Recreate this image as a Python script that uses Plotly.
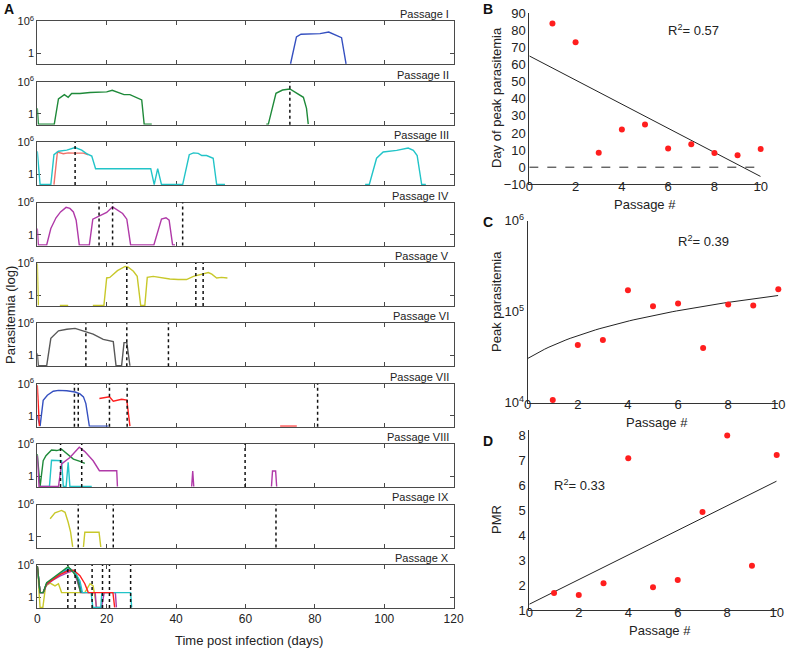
import numpy as np
import plotly.graph_objects as go

W, H = 787, 649
FONT = "Liberation Sans, Arial, sans-serif"
BOT = -1.9  # curve resting on the lower axis (below detection)

# ---- Panel A: log10 parasitemia per passage (days, log10 values) ----
p1_blue_day = [73, 74.7, 76, 79, 81.5, 84, 87.7, 89]
p1_blue_log = [BOT, 3.1, 3.6, 3.6, 3.7, 4.0, 2.95, BOT]

p2_green_day = [0, 0.3, 4.9, 6.1, 7.8, 8.9, 9.9, 12.3, 15.2, 18.1, 20, 21.6, 23.3, 25, 26.7, 28.2, 30.1, 30.8, 33,
                None, 66, 66.6, 68.8, 70.7, 72.8, 74.8, 76.7, 77.6, 78.1]
p2_green_log = [1.05, BOT, BOT, 2.8, 3.6, 3.1, 3.8, 3.8, 4.0, 4.0, 4.1, 4.4, 4.0, 3.6, 3.6, 3.2, 2.6, BOT, BOT,
                None, BOT, BOT, 3.85, 4.45, 4.65, 3.85, 3.1, 1.05, BOT]

p3_red_day = [4.8, 5.8, 7.5, 8.9, 10.9, 13.3, 14.7]
p3_red_log = [BOT, 4.15, 3.85, 4.0, 3.95, 3.95, 3.65]
p3_cyan_day = [0, 0.8, 3.9, 4.8, 6.1, 8.5, 10.9, 12.8, 14.2, 15.7, 16.8, 32.7, 33.7, 34.7, 35.8, 41.9, 43.8, 45,
               46.4, 47.4, 48.8, 50.7, 51.7, 54.1, None, 94.5, 95.7, 97.8, 99.7, 103.6, 106.9, 108.4, 109.5,
               110.8, 112]
p3_cyan_log = [4.3, BOT, BOT, 3.65, 4.3, 4.5, 5.0, 4.5, 3.85, 3.4, 1.05, 1.05, BOT, 1.05, BOT, BOT, 3.65, 4.0,
               3.9, 3.5, 3.5, 3.0, BOT, BOT, None, BOT, BOT, 3.0, 4.15, 4.45, 4.9, 4.45, 3.5, BOT, BOT]

p4_mag_day = [0, 0.3, 2.7, 3.9, 5.4, 6.7, 8.3, 9.4, 10.4, 11.2, 12.1, 15.0, 16.0, 18.1, 20, 21.7, 23.1, 24.6,
              25.8, 26.9, 33.6, 34.9, 35.8, 37.1, 38.0, 39.0, 39.7]
p4_mag_log = [1.15, BOT, BOT, 1.15, 3.15, 4.25, 5.1, 4.9, 4.25, 2.7, BOT, BOT, 2.9, 3.5, 4.15, 5.2, 4.55, 3.95,
              2.9, BOT, BOT, 1.15, 2.9, 3.15, 2.7, BOT, BOT]

p5_yel_day = [0, 0.3, None, 6.5, 8.9, None, 16, 19.2, 20, 20.9, 23.1, 25.3, 26.2, 27.7, 28.8, 29.8, 31.0, 31.7,
              33.4, 35.8, 38.2, 40.6, 43.0, 45.0, 46.9, 49.3, 50.3, 51.7, 53.1, 54.8]
p5_yel_log = [5.9, BOT, None, BOT, BOT, None, BOT, BOT, 3.2, 3.3, 4.55, 5.35, 5.2, 4.45, 3.5, BOT, BOT, 3.3,
              3.5, 3.2, 3.0, 2.9, 2.9, 3.5, 3.8, 4.2, 3.9, 3.2, 3.3, 3.2]

p6_gray_day = [0, 0.3, 2.7, 3.9, 6.1, 8.5, 10.9, 14.0, 16.1, 19.0, 21.9, 22.7, 24.3, 25, 25.8, 26.7]
p6_gray_log = [0.4, BOT, BOT, 3.2, 4.6, 4.9, 5.05, 4.45, 4.0, 3.0, 2.6, BOT, BOT, 2.4, 2.4, BOT]

p7_blue_day = [0, 0.8, 1.7, 2.9, 4.6, 6.1, 8.5, 10.9, 12.3, 13.3, 14.0, 15.0, 20.5]
p7_blue_log = [0.0, BOT, 2.9, 3.85, 4.6, 4.75, 4.7, 4.45, 4.1, 3.55, 2.3, BOT, BOT]
p7_red_day = [0, 0.6, None, 17.9, 19.5, 20.8, 21.9, 23.1, 24.3, 25.8, 26.7, None, 70, 74.8]
p7_red_log = [5.7, BOT, None, 3.25, 3.4, 3.55, 2.75, 2.9, 3.1, 2.95, BOT, None, BOT, BOT]

p8_green_day = [0, 0.8, 1.7, 2.5, 4.1, 5.6, 7.0, 8.5, 10.4, 12.3, 13.7]
p8_green_log = [4.15, BOT, 2.9, 3.85, 4.9, 4.8, 5.05, 4.3, 3.2, 2.8, 2.4]
p8_cyan_day = [1, 3.5, 4.1, 5.6, 7.0, 7.5, 8.3, 8.9, 9.4, 15.7]
p8_cyan_log = [BOT, BOT, 3.0, 3.0, 2.9, BOT, BOT, 2.6, BOT, BOT]
p8_mag_day = [0, 0.5, 6.1, 7.0, 9.4, 12.1, 13.7, 16.1, 17.9, 22.9, 23.1, None, 44.5, 44.8, 45.1, None,
              67.5, 67.8, 68.7, 69]
p8_mag_log = [3.85, BOT, BOT, 2.3, 3.5, 5.4, 4.6, 2.9, 1.05, 1.05, BOT, None, BOT, 1.0, BOT, None,
              BOT, 1.0, 1.0, BOT]

p9_yel_day = [3.7, 5.1, 7.0, 8.0, 8.9, 9.6, 10.2, None, 13.3, 13.7, 17.8, 18.3]
p9_yel_log = [3.35, 4.45, 4.9, 4.55, 2.7, 0.85, BOT, None, BOT, 0.85, 0.85, BOT]

p10_yel_day = [0, 0.8, 1.6, 2.4, 3.7, 5.1, 6.1, 7.0, 13.7, 15.2, 16.1, 17.1]
p10_yel_log = [5.8, BOT, BOT, 2.1, 2.6, 2.1, 2.5, 0.85, 0.85, 2.5, 2.1, BOT]
p10_mag_day = [0, 0.8, 1.7, 2.7, 4.6, 6.5, 8.9, 10.4, 11.5, 12.5, 16.7, 17.0, 18.5, 19.3, 22.5, 22.8]
p10_mag_log = [5.8, 0.85, 0.85, 2.3, 3.2, 3.9, 4.6, 4.9, 3.0, 0.85, 0.85, BOT, BOT, 0.85, 0.85, BOT]
p10_blue_day = [0, 0.8, 1.7, 2.7, 4.6, 6.5, 9.4, 11, 12.0, 12.8]
p10_blue_log = [5.8, 0.85, 0.85, 2.5, 3.4, 4.3, 5.3, 4.5, 3.0, 0.85]
p10_cyan_day = [0, 0.8, 1.7, 2.7, 4.6, 6.5, 8.9, 10.9, 12.3, 13.0, 15.5, 16, 18.3, 18.6, 26.9, 27.2]
p10_cyan_log = [5.8, 0.85, 0.85, 2.6, 3.4, 4.3, 5.5, 4.6, 3.0, 0.85, 0.85, BOT, BOT, 0.85, 0.85, BOT]
p10_green_day = [0, 0.8, 1.7, 2.7, 4.6, 6.5, 8.9, 10.4, 11.5, 12.5]
p10_green_log = [5.8, 0.85, 0.85, 2.7, 3.6, 4.5, 5.65, 4.6, 3.5, 0.85]
p10_red_day = [0, 0.8, 1.7, 2.7, 4.6, 6.5, 8.9, 10.5, 12.3, 13.7, 14.7, 21.8, 22.3]
p10_red_log = [5.8, 0.85, 0.85, 2.5, 3.3, 4.2, 4.9, 5.0, 4.0, 2.5, 0.85, 0.85, BOT]

# day of peak markers (dotted lines)
peak_days = [[], [72.8], [10.9], [17.8, 21.7, 41.9], [25.8, 45.7, 47.8], [14.0, 25.8, 37.8],
             [10.7, 11.8, 20.8, 25.9, 80.8], [6.7, 12.8, 59.9], [11.8, 21.9, 68.8],
             [8.8, 10.9, 15.8, 18.8, 20.8, 26.9]]
passage_names = ["I", "II", "III", "IV", "V", "VI", "VII", "VIII", "IX", "X"]
x_ticks_a = [0, 20, 40, 60, 80, 100, 120]

# ---- Panels B-D ----
passage = [1, 2, 3, 4, 5, 6, 7, 8, 9, 10]
peak_day = [84, 73, 8.5, 22, 25, 11, 13.4, 8.3, 7, 10.6]
peak_para = [1.07e4, 4.3e4, 4.9e4, 1.72e5, 1.15e5, 1.23e5, 4.0e4, 1.2e5, 1.17e5, 1.77e5]
pmr = [1.68, 1.6, 2.07, 7.07, 1.91, 2.2, 4.92, 7.98, 2.77, 7.2]

BLUE, GREEN, CYAN = "#3550c0", "#1f8a3a", "#22c4c8"
SALMON, MAG, YEL = "#f07068", "#b03aa8", "#c8c82a"
GRAY, RED = "#585858", "#ff1e1e"

series = [
    (1, p1_blue_day, p1_blue_log, BLUE),
    (2, p2_green_day, p2_green_log, GREEN),
    (3, p3_red_day, p3_red_log, SALMON),
    (3, p3_cyan_day, p3_cyan_log, CYAN),
    (4, p4_mag_day, p4_mag_log, MAG),
    (5, p5_yel_day, p5_yel_log, YEL),
    (6, p6_gray_day, p6_gray_log, GRAY),
    (7, p7_blue_day, p7_blue_log, BLUE),
    (7, p7_red_day, p7_red_log, RED),
    (8, p8_cyan_day, p8_cyan_log, CYAN),
    (8, p8_green_day, p8_green_log, GREEN),
    (8, p8_mag_day, p8_mag_log, MAG),
    (9, p9_yel_day, p9_yel_log, YEL),
    (10, p10_yel_day, p10_yel_log, YEL),
    (10, p10_mag_day, p10_mag_log, MAG),
    (10, p10_blue_day, p10_blue_log, BLUE),
    (10, p10_cyan_day, p10_cyan_log, CYAN),
    (10, p10_red_day, p10_red_log, RED),
    (10, p10_green_day, p10_green_log, GREEN),
]


def ax(n):
    return "" if n == 1 else str(n)


def fx(p):
    return p / W


def fy(p):
    return 1 - p / H


fig = go.Figure()
layout = {}
shapes = []
annotations = []

axis_line = dict(showline=True, linecolor="#4a4a4a", linewidth=1, showgrid=False, zeroline=False, automargin=False)
tick_font = dict(family=FONT, size=11, color="#222")

for k in range(10):
    n = k + 1
    top = 21.3 + 60.4 * k
    layout["xaxis" + ax(n)] = dict(
        domain=[fx(37.3), fx(453.6)], range=[0, 120], anchor="y" + ax(n),
        tickvals=x_ticks_a, ticks="inside", ticklen=4, tickcolor="#4a4a4a", mirror="ticks",
        showticklabels=(k == 9), tickfont=dict(family=FONT, size=12, color="#222"),
        layer="below traces", **axis_line,
    )
    layout["yaxis" + ax(n)] = dict(
        domain=[fy(top + 43), fy(top)], range=[-2, 6], anchor="x" + ax(n),
        tickvals=[0, 6], ticktext=["1", "10<sup>6</sup>"], ticks="inside", ticklen=4,
        tickcolor="#4a4a4a", mirror="ticks", tickfont=tick_font, layer="below traces", **axis_line,
    )
    annotations.append(dict(
        xref="paper", yref="paper", x=fx(451), y=fy(top - 7), xanchor="right", yanchor="middle",
        text="Passage " + passage_names[k], showarrow=False, font=dict(family=FONT, size=11, color="#222"),
    ))
    for d in peak_days[k]:
        shapes.append(dict(type="line", xref="x" + ax(n), yref="y" + ax(n) + " domain",
                           x0=d, x1=d, y0=0, y1=1, line=dict(color="#111", width=1.5, dash="dot")))

for n, xs, ys, c in series:
    fig.add_trace(go.Scatter(x=xs, y=ys, mode="lines", line=dict(color=c, width=1.4),
                             xaxis="x" + ax(n), yaxis="y" + ax(n), showlegend=False, connectgaps=False))

# ---- fits ----
fit_x = np.linspace(0, 10, 60)
b_fit = np.polyval(np.polyfit(passage, peak_day, 1), fit_x)
c_fit = np.polyval(np.polyfit(passage, peak_para, 1), fit_x)
d_fit = np.polyval(np.polyfit(passage, pmr, 1), fit_x)

panel_font = dict(family=FONT, size=13, color="#222")
common = dict(showgrid=False, zeroline=False, showline=True, linecolor="#333", linewidth=1,
              ticks="", tickfont=panel_font, automargin=False)
xcommon = dict(range=[0, 10], tickvals=[0, 2, 4, 6, 8, 10], ticklabelstandoff=-10, **common)
ycommon = dict(ticklabelstandoff=0, **common)

# B
layout["xaxis11"] = dict(domain=[fx(529.3), fx(760.7)], anchor="y11", **xcommon)
layout["yaxis11"] = dict(domain=[fy(184.3), fy(13.3)], range=[-10, 90], anchor="x11",
                         tickvals=list(range(-10, 91, 10)),
                         ticktext=["\u221210"] + [str(v) for v in range(0, 91, 10)], **ycommon)
fig.add_trace(go.Scatter(x=fit_x, y=b_fit, mode="lines", line=dict(color="#222", width=1),
                         xaxis="x11", yaxis="y11", showlegend=False))
fig.add_trace(go.Scatter(x=passage, y=peak_day, mode="markers", marker=dict(color=RED, size=6),
                         xaxis="x11", yaxis="y11", showlegend=False, cliponaxis=False))
shapes.append(dict(type="line", xref="x11", yref="y11", x0=0, x1=10, y0=0, y1=0,
                   line=dict(color="#222", width=1, dash="dash")))
annotations.append(dict(xref="x11", yref="y11", x=5.9, y=80, xanchor="left", text="R<sup>2</sup>= 0.57",
                        showarrow=False, font=panel_font))

# C
layout["xaxis12"] = dict(domain=[fx(527.7), fx(778.3)], anchor="y12", **xcommon)
layout["yaxis12"] = dict(domain=[fy(402.7), fy(220.7)], type="log", range=[4, 6], anchor="x12",
                         tickvals=[1e4, 1e5, 1e6], ticktext=["10<sup>4</sup>", "10<sup>5</sup>", "10<sup>6</sup>"],
                         **ycommon)
fig.add_trace(go.Scatter(x=fit_x, y=c_fit, mode="lines", line=dict(color="#222", width=1),
                         xaxis="x12", yaxis="y12", showlegend=False))
fig.add_trace(go.Scatter(x=passage, y=peak_para, mode="markers", marker=dict(color=RED, size=6),
                         xaxis="x12", yaxis="y12", showlegend=False, cliponaxis=False))
annotations.append(dict(xref="x12", yref="y12", x=5.9, y=5.78, xanchor="left", text="R<sup>2</sup>= 0.39",
                        showarrow=False, font=panel_font))

# D
layout["xaxis13"] = dict(domain=[fx(529.3), fx(776.7)], anchor="y13", **xcommon)
layout["yaxis13"] = dict(domain=[fy(610), fy(430)], range=[1, 8.2], anchor="x13", tickvals=list(range(1, 9)),
                         **ycommon)
fig.add_trace(go.Scatter(x=fit_x, y=d_fit, mode="lines", line=dict(color="#222", width=1),
                         xaxis="x13", yaxis="y13", showlegend=False))
fig.add_trace(go.Scatter(x=passage, y=pmr, mode="markers", marker=dict(color=RED, size=6),
                         xaxis="x13", yaxis="y13", showlegend=False, cliponaxis=False))
annotations.append(dict(xref="x13", yref="y13", x=0.9, y=6, xanchor="left", text="R<sup>2</sup>= 0.33",
                        showarrow=False, font=panel_font))

# axis titles placed as paper annotations (pixel positions)
titles = [
    ("Time post infection (days)", 249, 640, 0),
    ("Parasitemia (log)", 10, 315, -90),
    ("Passage #", 645, 204, 0),
    ("Day of peak parasitemia", 496, 98, -90),
    ("Passage #", 657, 422, 0),
    ("Peak parasitemia", 496, 302, -90),
    ("Passage #", 660, 630, 0),
    ("PMR", 496, 520, -90),
]
for txt, px, py, ang in titles:
    annotations.append(dict(xref="paper", yref="paper", x=fx(px), y=fy(py), xanchor="center", yanchor="middle",
                            text=txt, textangle=ang, showarrow=False, font=panel_font))

for letter, px, py in [("A", 9, 9), ("B", 488, 9), ("C", 488, 222), ("D", 488, 441)]:
    annotations.append(dict(xref="paper", yref="paper", x=fx(px), y=fy(py), xanchor="center", yanchor="middle",
                            text="<b>" + letter + "</b>", showarrow=False,
                            font=dict(family=FONT, size=14, color="#111")))

fig.update_layout(
    width=W, height=H, margin=dict(l=0, r=0, t=0, b=0, autoexpand=False),
    paper_bgcolor="white", plot_bgcolor="white",
    font=dict(family=FONT, color="#222"),
    shapes=shapes, annotations=annotations, showlegend=False,
    **layout,
)

# drop the default page margin so the figure sits flush in the window; no toolbar
fig.write_html("out.html", config={"displayModeBar": False},
               post_script="document.body.style.margin = '0';")
